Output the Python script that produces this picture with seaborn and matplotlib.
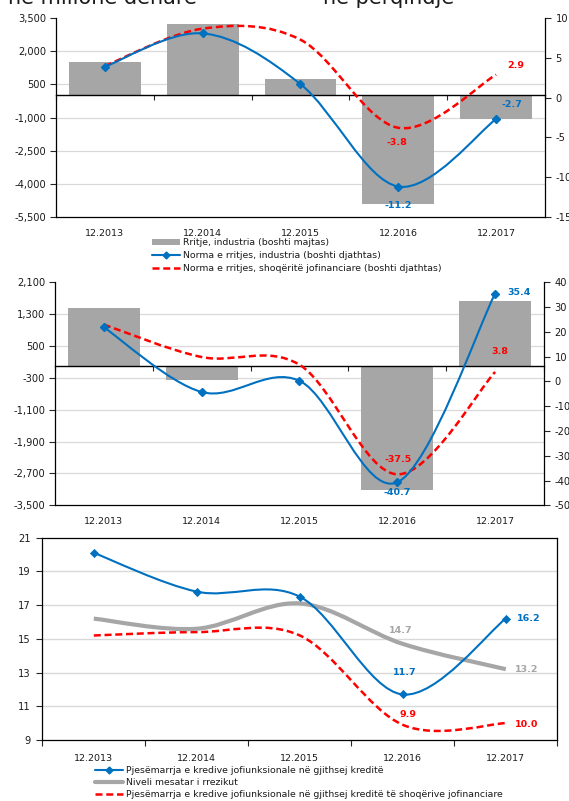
import numpy as np
import matplotlib
matplotlib.use("Agg")
import matplotlib.pyplot as plt
from matplotlib.path import Path
from matplotlib.patches import PathPatch, Patch
from matplotlib.lines import Line2D
import seaborn as sns

# ---------------- data ----------------
periods = ["12.2013", "12.2014", "12.2015", "12.2016", "12.2017"]

# top panel: industry
industry_growth = [1500, 3220, 730, -4920, -1070]          # million denars (left axis)
industry_rate = [3.9, 8.1, 1.7, -11.2, -2.7]               # percent (right axis)
nfc_rate_top = [4.0, 8.7, 7.3, -3.8, 2.9]                  # percent (right axis)

# middle panel
sector_growth = [1440, -350, 0, -3110, 1630]
sector_rate = [21.8, -4.3, 0.2, -40.7, 35.4]
nfc_rate_mid = [22.9, 9.8, 6.7, -37.5, 3.8]

# bottom panel: non-performing loans
npl_share = [20.1, 17.8, 17.5, 11.7, 16.2]
avg_risk = [16.2, 15.6, 17.1, 14.7, 13.2]
npl_share_nfc = [15.2, 15.4, 15.2, 9.9, 10.0]

left_ticks_top = [-5500, -4000, -2500, -1000, 500, 2000, 3500]
right_ticks_top = [-15, -10, -5, 0, 5, 10]
left_ticks_mid = [-3500, -2700, -1900, -1100, -300, 500, 1300, 2100]
right_ticks_mid = [-50, -40, -30, -20, -10, 0, 10, 20, 30, 40]
ticks_bottom = [9, 11, 13, 15, 17, 19, 21]

legend_top = ["Rritje, industria (boshti majtas)",
              "Norma e rritjes, industria (boshti djathtas)",
              "Norma e rritjes, shoqëritë jofinanciare (boshti djathtas)"]
legend_bottom = ["Pjesëmarrja e kredive jofiunksionale në gjithsej kreditë",
                 "Niveli mesatar i rrezikut",
                 "Pjesëmarrja e kredive jofiunksionale në gjithsej kreditë të shoqërive jofinanciare"]

# ---------------- style ----------------
BLUE = "#0070C0"
RED = "#FF0000"
GRAY = "#A6A6A6"
GRID = "#D9D9D9"
TXT = "#1a1a1a"
DASH = (0, (2.8, 1.5))

sns.set_style("white")
plt.rcParams["font.family"] = ["DejaVu Sans"]
plt.rcParams["axes.edgecolor"] = "black"

W, H = 569, 801
fig = plt.figure(figsize=(W / 100, H / 100), dpi=100)


def box(l, t, r, b):
    return [l / W, 1 - b / H, (r - l) / W, (b - t) / H]


def smooth_path(xs, ys):
    """Bezier path through the points, with Catmull-Rom style control points."""
    n = len(xs)
    verts = [(xs[0], ys[0])]
    codes = [Path.MOVETO]
    for i in range(n - 1):
        a = max(i - 1, 0)
        d = min(i + 2, n - 1)
        c1 = (xs[i] + (xs[i + 1] - xs[a]) / 6, ys[i] + (ys[i + 1] - ys[a]) / 6)
        c2 = (xs[i + 1] - (xs[d] - xs[i]) / 6, ys[i + 1] - (ys[d] - ys[i]) / 6)
        verts += [c1, c2, (xs[i + 1], ys[i + 1])]
        codes += [Path.CURVE4] * 3
    return Path(verts, codes)


def smooth_line(ax, ys, color, lw, ls="-", zorder=3):
    xs = list(range(len(ys)))
    ax.add_patch(PathPatch(smooth_path(xs, ys), fill=False, edgecolor=color,
                           lw=lw, linestyle=ls, capstyle="butt", zorder=zorder))


def value_label(ax, i, v, color, dx, dy):
    ax.annotate(f"{v:.1f}", xy=(i, v), xytext=(dx, dy), textcoords="offset points",
                ha="center", va="center", color=color, fontsize=6.8,
                fontweight="bold", zorder=6)


def growth_panel(rect, growth, rate, nfc, lticks, rticks, labels):
    ax = fig.add_axes(rect)
    sns.barplot(x=periods, y=growth, color=GRAY, saturation=1, width=0.735,
                linewidth=0, ax=ax, zorder=2)
    ax.set_xlim(-0.5, 4.5)
    ax.set_ylim(lticks[0], lticks[-1])
    ax.set_yticks(lticks, labels=[f"{v:,}" for v in lticks])
    for v in lticks[1:-1]:
        ax.axhline(v, color=GRID, lw=0.9, zorder=0.5)
    ax.set_xlabel("")
    ax.set_ylabel("")
    # category axis crosses the value axis at zero
    ax.spines["bottom"].set_position(("data", 0))
    ax.spines["bottom"].set_linewidth(1.0)
    ax.spines["top"].set_visible(False)
    ax.spines["right"].set_visible(False)
    ax.spines["left"].set_linewidth(0.9)
    ax.set_xticks(np.arange(-0.5, 5, 1), labels=[""] * 6)
    ax.tick_params(axis="x", direction="out", length=3.5, width=0.8,
                   labelbottom=False, bottom=True)
    ax.tick_params(axis="y", direction="out", length=4, width=0.8, pad=3,
                   labelsize=7.1, labelcolor=TXT, left=True)

    sec = ax.secondary_xaxis("bottom")
    sec.set_xticks(range(len(periods)), labels=periods)
    sec.tick_params(length=0, pad=8.6, labelsize=6.8, labelcolor=TXT)
    sec.spines["bottom"].set_linewidth(0.9)

    ax2 = ax.twinx()
    ax2.set_ylim(rticks[0], rticks[-1])
    ax2.set_yticks(rticks, labels=[f"{v:g}" for v in rticks])
    for s in ("top", "left", "bottom"):
        ax2.spines[s].set_visible(False)
    ax2.spines["right"].set_linewidth(0.9)
    ax2.tick_params(axis="y", direction="out", length=4, width=0.8, pad=3.5,
                    labelsize=7.1, labelcolor=TXT, right=True)
    ax2.grid(False)

    smooth_line(ax2, nfc, RED, 1.8, DASH)
    smooth_line(ax2, rate, BLUE, 1.5)
    ax2.plot(range(len(rate)), rate, linestyle="none", marker="D", ms=4.3,
             color=BLUE, zorder=5)
    for series, idx, color, dx, dy in labels:
        value_label(ax2, idx, series[idx], color, dx, dy)
    return ax, ax2


# ---------------- top panel ----------------
growth_panel(box(56, 18.3, 545, 216.7), industry_growth, industry_rate, nfc_rate_top,
             left_ticks_top, right_ticks_top,
             [(nfc_rate_top, 4, RED, 14.4, 6.5),
              (industry_rate, 4, BLUE, 11.5, 10.8),
              (nfc_rate_top, 3, RED, -0.7, -10.8),
              (industry_rate, 3, BLUE, 0, -13.3)])

fig.legend(handles=[Patch(facecolor=GRAY, edgecolor="none"),
                    Line2D([], [], color=BLUE, lw=1.5, marker="D", ms=3.5),
                    Line2D([], [], color=RED, lw=1.8, linestyle=DASH)],
           labels=legend_top, loc="center left",
           bbox_to_anchor=(151.7 / W, 1 - 255.7 / H), bbox_transform=fig.transFigure,
           frameon=False, fontsize=6.75, handlelength=3.0, handletextpad=0.3,
           labelspacing=0.42, borderpad=0, borderaxespad=0, numpoints=1,
           labelcolor=TXT)

# ---------------- middle panel ----------------
growth_panel(box(55, 282.2, 544, 505.3), sector_growth, sector_rate, nfc_rate_mid,
             left_ticks_mid, right_ticks_mid,
             [(sector_rate, 4, BLUE, 17.3, 0.6),
              (nfc_rate_mid, 4, RED, 3.6, 14.5),
              (nfc_rate_mid, 3, RED, 0.5, 10.9),
              (sector_rate, 3, BLUE, 0, -7.5)])

# ---------------- bottom panel ----------------
ax3 = fig.add_axes(box(42.3, 537.7, 557.3, 740))
x = np.arange(len(periods))
sns.scatterplot(x=x, y=npl_share, marker="D", s=22, color=BLUE, edgecolor=BLUE,
                linewidth=0, ax=ax3, zorder=5)
smooth_line(ax3, npl_share_nfc, RED, 1.8, DASH)
smooth_line(ax3, avg_risk, GRAY, 3.0, zorder=3)
smooth_line(ax3, npl_share, BLUE, 1.5, zorder=4)
ax3.set_xlim(-0.5, 4.5)
ax3.set_ylim(ticks_bottom[0], ticks_bottom[-1])
ax3.set_yticks(ticks_bottom, labels=[str(v) for v in ticks_bottom])
for v in ticks_bottom[1:-1]:
    ax3.axhline(v, color=GRID, lw=1.0, zorder=0.5)
ax3.set_xticks(x, labels=periods)
ax3.set_xticks(np.arange(-0.5, 5, 1), minor=True)
ax3.tick_params(axis="x", which="major", length=0, pad=10, labelsize=6.8, labelcolor=TXT)
ax3.tick_params(axis="x", which="minor", direction="out", length=4, width=0.8, bottom=True)
ax3.tick_params(axis="y", direction="out", length=4, width=0.8, pad=4.5,
                labelsize=7.1, labelcolor=TXT, left=True)
for s in ax3.spines.values():
    s.set_linewidth(0.9)
    s.set_color("black")
ax3.set_xlabel("")
ax3.set_ylabel("")

value_label(ax3, 4, npl_share[4], BLUE, 16.3, 0.2)
value_label(ax3, 3, avg_risk[3], GRAY, -1.3, 9.8)
value_label(ax3, 3, npl_share[3], BLUE, 1.6, 15.5)
value_label(ax3, 4, avg_risk[4], GRAY, 15.3, 0)
value_label(ax3, 3, npl_share_nfc[3], RED, 3.7, 7.1)
value_label(ax3, 4, npl_share_nfc[4], RED, 15.3, -0.8)

fig.legend(handles=[Line2D([], [], color=BLUE, lw=1.5, marker="D", ms=3.5),
                    Line2D([], [], color=GRAY, lw=3.0),
                    Line2D([], [], color=RED, lw=1.8, linestyle=DASH)],
           labels=legend_bottom, loc="center left",
           bbox_to_anchor=(95 / W, 1 - 782.5 / H), bbox_transform=fig.transFigure,
           frameon=False, fontsize=6.75, handlelength=3.0, handletextpad=0.3,
           labelspacing=0.34, borderpad=0, borderaxespad=0, numpoints=1,
           labelcolor=TXT)

# unit captions running off the top edge
fig.text(8 / W, 1 - 4 / H, "në milionë denarë", fontsize=15, va="baseline",
         ha="left", color=TXT)
fig.text(323 / W, 1 - 4 / H, "në përqindje", fontsize=15, va="baseline",
         ha="left", color=TXT)

fig.savefig("out.png", dpi=100)
